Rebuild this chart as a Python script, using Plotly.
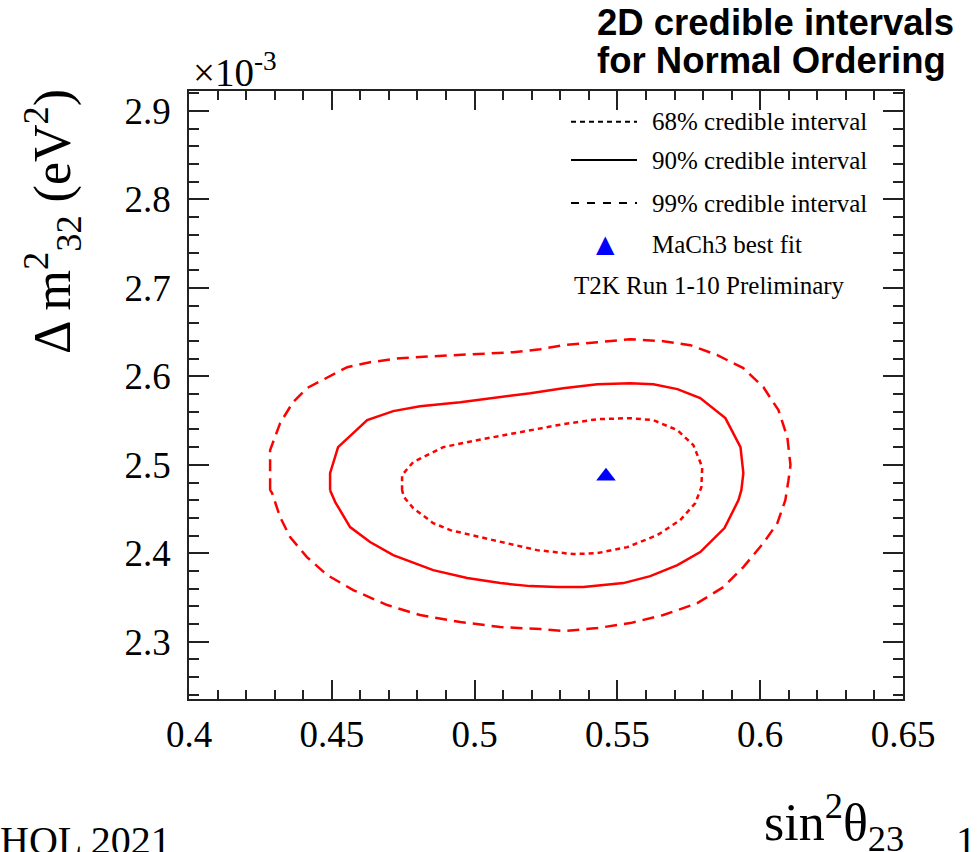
import plotly.graph_objects as go

# Contour levels of the posterior in (sin^2 theta23, dm^2_32 [1e-3 eV^2])
cont99_x = [0.4284, 0.4284, 0.4319, 0.4364, 0.4413, 0.4484, 0.4554, 0.4634, 0.4739, 0.4855,
            0.4995, 0.5135, 0.5230, 0.5310, 0.5430, 0.5545, 0.5661, 0.5755, 0.5850, 0.5941,
            0.6011, 0.6064, 0.6095, 0.6106, 0.6099, 0.6088, 0.6060, 0.6011, 0.5941, 0.5871,
            0.5780, 0.5661, 0.5545, 0.5430, 0.5310, 0.5230, 0.5090, 0.4950, 0.4809, 0.4694,
            0.4575, 0.4484, 0.4413, 0.4354, 0.4319, 0.4291]
cont99_y = [2.4714, 2.5166, 2.5471, 2.5708, 2.5867, 2.5991, 2.6104, 2.6160, 2.6206, 2.6228,
            2.6251, 2.6273, 2.6307, 2.6353, 2.6386, 2.6420, 2.6398, 2.6353, 2.6240, 2.6093,
            2.5878, 2.5618, 2.5313, 2.4997, 2.4827, 2.4601, 2.4341, 2.4115, 2.3844, 2.3618,
            2.3437, 2.3302, 2.3211, 2.3155, 2.3121, 2.3143, 2.3166, 2.3223, 2.3302, 2.3415,
            2.3584, 2.3754, 2.3957, 2.4183, 2.4409, 2.4680]

cont90_x = [0.4494, 0.4494, 0.4522, 0.4624, 0.4715, 0.4809, 0.4950, 0.5090, 0.5195, 0.5310,
            0.5430, 0.5545, 0.5626, 0.5710, 0.5790, 0.5878, 0.5931, 0.5941, 0.5934, 0.5924,
            0.5875, 0.5790, 0.5710, 0.5615, 0.5521, 0.5381, 0.5289, 0.5195, 0.5090, 0.4974,
            0.4855, 0.4715, 0.4634, 0.4564, 0.4512]
cont90_y = [2.4714, 2.4906, 2.5200, 2.5505, 2.5607, 2.5663, 2.5708, 2.5765, 2.5810, 2.5867,
            2.5912, 2.5923, 2.5912, 2.5856, 2.5754, 2.5528, 2.5200, 2.4906, 2.4714, 2.4601,
            2.4285, 2.4014, 2.3867, 2.3742, 2.3663, 2.3618, 2.3618, 2.3629, 2.3663, 2.3720,
            2.3810, 2.3980, 2.4127, 2.4296, 2.4579]

cont68_x = [0.4746, 0.4746, 0.4785, 0.4890, 0.5009, 0.5135, 0.5230, 0.5310, 0.5430, 0.5545,
            0.5626, 0.5710, 0.5766, 0.5797, 0.5794, 0.5773, 0.5720, 0.5640, 0.5535, 0.5430,
            0.5345, 0.5219, 0.5065, 0.4915, 0.4855, 0.4785, 0.4753]
cont68_y = [2.4714, 2.4884, 2.5031, 2.5200, 2.5279, 2.5358, 2.5415, 2.5460, 2.5516, 2.5528,
            2.5505, 2.5392, 2.5223, 2.4974, 2.4748, 2.4567, 2.4375, 2.4206, 2.4070, 2.4002,
            2.3991, 2.4036, 2.4149, 2.4262, 2.4341, 2.4511, 2.4635]

best_fit_x = [0.546]
best_fit_y = [2.487]

x_tick_vals = [0.40, 0.45, 0.50, 0.55, 0.60, 0.65]
x_tick_text = ["0.4", "0.45", "0.5", "0.55", "0.6", "0.65"]
y_tick_vals = [2.3, 2.4, 2.5, 2.6, 2.7, 2.8, 2.9]
y_tick_text = ["2.3", "2.4", "2.5", "2.6", "2.7", "2.8", "2.9"]

legend_labels = ["68% credible interval", "90% credible interval",
                 "99% credible interval", "MaCh3 best fit"]
legend_dashes = ["5px,4px", "solid", "8px,8px"]

SERIF = "Liberation Serif"
RED = "#ff0000"


def closed(v):
    return list(v) + [v[0]]


fig = go.Figure()
for xs, ys, dash in [(cont68_x, cont68_y, "5px,4px"),
                     (cont90_x, cont90_y, "solid"),
                     (cont99_x, cont99_y, "12px,7px")]:
    fig.add_trace(go.Scatter(x=closed(xs), y=closed(ys), mode="lines",
                             line=dict(color=RED, width=2.5, dash=dash),
                             showlegend=False, hoverinfo="skip"))

fig.add_trace(go.Scatter(x=best_fit_x, y=best_fit_y, mode="markers",
                         marker=dict(symbol="triangle-up", size=17, color="#0000ff"),
                         showlegend=False))

axis_common = dict(showline=True, linecolor="#222", linewidth=1.5, mirror="ticks",
                   ticks="inside", tickcolor="#222", tickwidth=1.5,
                   showgrid=False, zeroline=False,
                   tickfont=dict(family=SERIF, size=37, color="black"))

fig.update_xaxes(range=[0.4, 0.65], tickvals=x_tick_vals, ticktext=x_tick_text,
                 ticklen=19, ticklabelstandoff=2,
                 minor=dict(dtick=0.01, tick0=0.4, ticks="inside", ticklen=9,
                            tickcolor="#222", tickwidth=1.5, showgrid=False),
                 **axis_common)
fig.update_yaxes(range=[2.2353, 2.9226], tickvals=y_tick_vals, ticktext=y_tick_text,
                 ticklen=20, ticklabelstandoff=9,
                 minor=dict(dtick=0.02, tick0=2.2, ticks="inside", ticklen=10,
                            tickcolor="#222", tickwidth=1.5, showgrid=False),
                 **axis_common)

L, R, T, B, W, H = 189, 74, 91, 153, 977, 852
PW, PH = W - L - R, H - T - B


def px(xp):
    return (xp - L) / PW


def py(yp):
    return (H - B - yp) / PH


ann = []
shapes = []

# legend box content
leg_y = [121.7, 160, 203, 244]
for i, lab in enumerate(legend_labels):
    ann.append(dict(x=px(650), y=py(leg_y[i]), xref="paper", yref="paper",
                    text=lab, showarrow=False, xanchor="left", yanchor="middle",
                    font=dict(family=SERIF, size=25, color="black")))
for i, d in enumerate(legend_dashes):
    shapes.append(dict(type="line", xref="paper", yref="paper",
                       x0=px(571), x1=px(637), y0=py(leg_y[i]), y1=py(leg_y[i]),
                       line=dict(color="black", width=2, dash=d)))
ann.append(dict(x=px(605), y=py(leg_y[3]), xref="paper", yref="paper", text="▲",
                showarrow=False, xanchor="center", yanchor="middle",
                font=dict(family="DejaVu Sans", size=24, color="#0000ff")))
ann.append(dict(x=px(572), y=py(285), xref="paper", yref="paper",
                text="T2K Run 1-10 Preliminary", showarrow=False,
                xanchor="left", yanchor="middle",
                font=dict(family=SERIF, size=25, color="black")))

# exponent of the vertical axis
ann.append(dict(x=px(191), y=py(96), xref="paper", yref="paper",
                text="×10<sup>-3</sup>", showarrow=False, xanchor="left", yanchor="bottom",
                font=dict(family=SERIF, size=39, color="black")))

# axis titles
ann.append(dict(x=px(52), y=py(222), xref="paper", yref="paper",
                text="Δ m<sup>2</sup><sub>32</sub> (eV<sup>2</sup>)", showarrow=False,
                textangle=-90, xanchor="center", yanchor="middle",
                font=dict(family=SERIF, size=52, color="black")))
ann.append(dict(x=px(906), y=py(822), xref="paper", yref="paper",
                text="sin<sup>2</sup>θ<sub>23</sub>", showarrow=False,
                xanchor="right", yanchor="middle",
                font=dict(family=SERIF, size=52, color="black")))

# heading
ann.append(dict(x=px(595), y=py(22), xref="paper", yref="paper",
                text="<b>2D credible intervals</b>", showarrow=False,
                xanchor="left", yanchor="middle",
                font=dict(family="Liberation Sans", size=36.5, color="black")))
ann.append(dict(x=px(595), y=py(61), xref="paper", yref="paper",
                text="<b>for Normal Ordering</b>", showarrow=False,
                xanchor="left", yanchor="middle",
                font=dict(family="Liberation Sans", size=36.5, color="black")))

# footer
ann.append(dict(x=px(-2), y=py(840), xref="paper", yref="paper",
                text="HQL 2021", showarrow=False, xanchor="left", yanchor="middle",
                font=dict(family=SERIF, size=40, color="black")))
ann.append(dict(x=px(954), y=py(840), xref="paper", yref="paper",
                text="1", showarrow=False, xanchor="left", yanchor="middle",
                font=dict(family=SERIF, size=40, color="black")))

fig.update_layout(width=W, height=H, margin=dict(l=L, r=R, t=T, b=B),
                  plot_bgcolor="white", paper_bgcolor="white",
                  annotations=ann, shapes=shapes, showlegend=False)

fig.write_html("out.html")
